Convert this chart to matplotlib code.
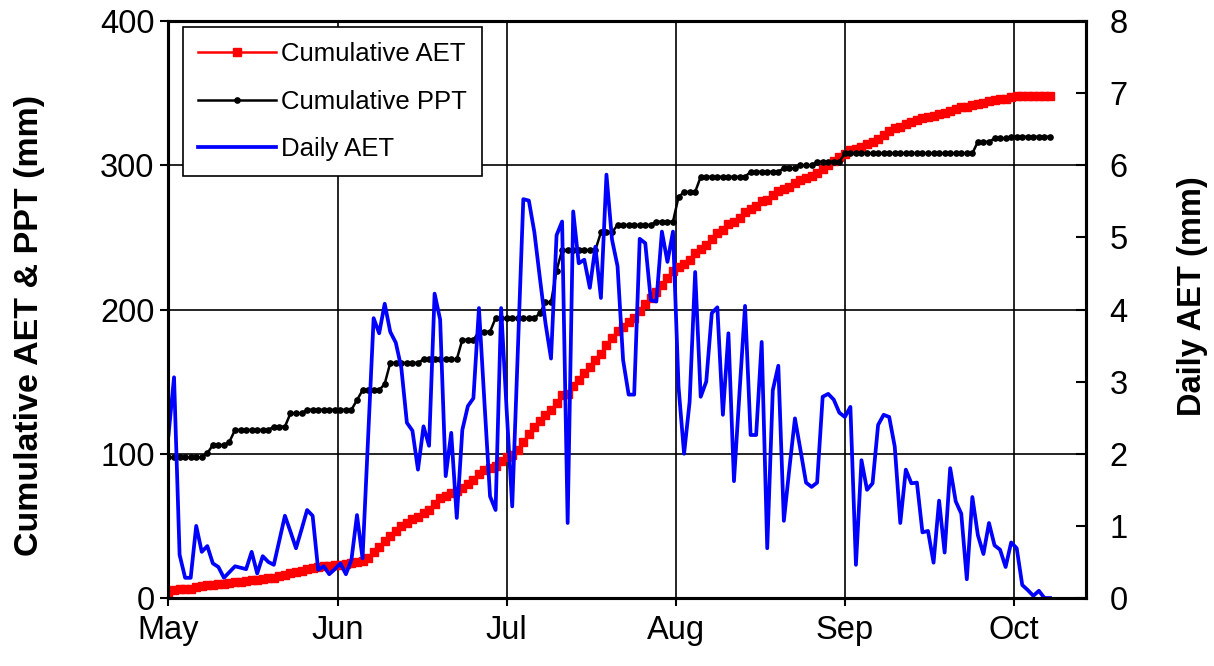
import numpy as np
import matplotlib.pyplot as plt
from matplotlib.lines import Line2D

# daily actual evapotranspiration (mm), one value per day starting 1 May
daily_aet = [
    2.26, 3.06, 0.60, 0.28, 0.28, 1.00, 0.64, 0.72, 0.48, 0.43,
    0.28, 0.36, 0.44, 0.42, 0.40, 0.64, 0.34, 0.58, 0.50, 0.46,
    0.80, 1.14, 0.92, 0.69, 0.95, 1.22, 1.14, 0.39, 0.44, 0.33,
    0.40, 0.48, 0.33, 0.53, 1.15, 0.55, 2.20, 3.88, 3.67, 4.08,
    3.69, 3.54, 3.19, 2.43, 2.32, 1.78, 2.38, 2.11, 4.22, 3.86,
    1.69, 2.29, 1.11, 2.33, 2.66, 2.77, 4.02, 2.70, 1.41, 1.22,
    4.02, 2.60, 1.27, 3.40, 5.53, 5.51, 5.07, 4.43, 3.81, 3.32,
    5.03, 5.22, 1.04, 5.36, 4.64, 4.69, 4.30, 4.87, 4.16, 5.87,
    4.97, 4.60, 3.30, 2.82, 2.82, 4.98, 4.92, 4.13, 4.11, 5.08,
    4.66, 5.08, 2.93, 2.00, 2.72, 4.52, 2.79, 3.00, 3.95, 4.03,
    2.54, 3.67, 1.62, 2.85, 4.05, 2.26, 2.26, 3.55, 0.69, 2.88,
    3.22, 1.07, 1.80, 2.49, 2.05, 1.60, 1.54, 1.60, 2.79, 2.83,
    2.75, 2.57, 2.51, 2.65, 0.46, 1.91, 1.50, 1.59, 2.40, 2.54,
    2.51, 2.10, 1.04, 1.78, 1.59, 1.60, 0.91, 0.93, 0.49, 1.35,
    0.63, 1.80, 1.34, 1.17, 0.26, 1.40, 0.87, 0.61, 1.04, 0.73,
    0.67, 0.43, 0.77, 0.69, 0.18, 0.11, 0.03, 0.10, 0.00, 0.00,
]

# precipitation: total before the season and the rain events (day index, mm)
ppt_start = 97.5
rain_day = [7, 8, 11, 12, 19, 22, 25, 34, 35, 39, 40, 46, 53, 56, 59, 67, 68,
            70, 71, 78, 81, 88, 92, 93, 96, 105, 111, 114, 117, 122, 146, 149, 152]
rain_mm = [2.9, 5.6, 2.4, 8.1, 2.3, 9.2, 2.5, 6.8, 6.7, 4.5, 14.5, 2.5, 13.5,
           5.6, 9.4, 3.4, 7.6, 22.0, 14.2, 12.3, 5.1, 2.3, 17.1, 3.5, 10.5,
           3.5, 2.5, 2.0, 2.5, 5.8, 8.0, 2.3, 1.2]

month_labels = ['May', 'Jun', 'Jul', 'Aug', 'Sep', 'Oct']
month_pos = [0, 30.5, 61, 91.5, 122, 152.5]

days = np.arange(len(daily_aet))
cum_aet = np.cumsum(daily_aet)
daily_ppt = np.zeros(len(days))
daily_ppt[rain_day] = rain_mm
cum_ppt = ppt_start + np.cumsum(daily_ppt)

plt.rcParams['font.family'] = ['Liberation Sans', 'DejaVu Sans']

fig = plt.figure(figsize=(12.14, 6.66), dpi=100)
W, H = 1214, 666
ax = fig.add_axes([168.5 / W, (H - 598) / H, (1086 - 168.5) / W, (598 - 21) / H])
ax2 = ax.twinx()

ax.plot(days, cum_aet, color='red', lw=1.8, marker='s', ms=5.2, mec='red', zorder=3)
ax.plot(days, cum_ppt, color='black', lw=1.8, marker='o', ms=3.8, mec='black', zorder=3)
# zorder below the spines so the trailing zeros sit under the x axis
ax2.plot(days, daily_aet, color='blue', lw=2.7, zorder=2)

ax.set_xlim(0, 165.5)
ax.set_ylim(0, 400)
ax2.set_ylim(0, 8)
ax.set_yticks([0, 100, 200, 300, 400])
ax2.set_yticks(range(9))
ax.set_xticks(month_pos)
ax.set_xticklabels(month_labels)

ax.grid(True, color='black', lw=1.2)
ax.set_axisbelow(True)

for a in (ax, ax2):
    for s in a.spines.values():
        s.set_linewidth(2.2)
ax.tick_params(axis='both', labelsize=23.5, width=1.5, length=6, direction='out')
ax.tick_params(axis='x', pad=6)
ax.tick_params(axis='y', pad=4)
ax2.tick_params(axis='y', labelsize=23.5, width=1.5, length=7, direction='in', pad=17)

ax.set_ylabel('Cumulative AET & PPT (mm)', fontsize=24.5, fontweight='bold')
ax2.set_ylabel('Daily AET (mm)', fontsize=23.5, fontweight='bold')
ax.yaxis.set_label_coords(-0.135, 0.473)
ax2.yaxis.set_label_coords(1.099, 0.523)

handles = [
    Line2D([], [], color='red', lw=1.8, marker='s', ms=5.2, markevery=[1]),
    Line2D([], [], color='black', lw=1.8, marker='o', ms=3.8, markevery=[1]),
    Line2D([], [], color='blue', lw=2.7),
]
leg = ax2.legend(handles, ['Cumulative AET', 'Cumulative PPT', 'Daily AET'],
                 loc='upper left', bbox_to_anchor=(183 / W, 1 - 27 / H),
                 bbox_transform=fig.transFigure, fontsize=18.5, frameon=True,
                 fancybox=False, edgecolor='black', framealpha=1,
                 handlelength=3.0, labelspacing=0.9, borderpad=0.6,
                 handletextpad=0.2, borderaxespad=0)
leg.get_frame().set_linewidth(1.2)

fig.savefig('out.png', dpi=100)
